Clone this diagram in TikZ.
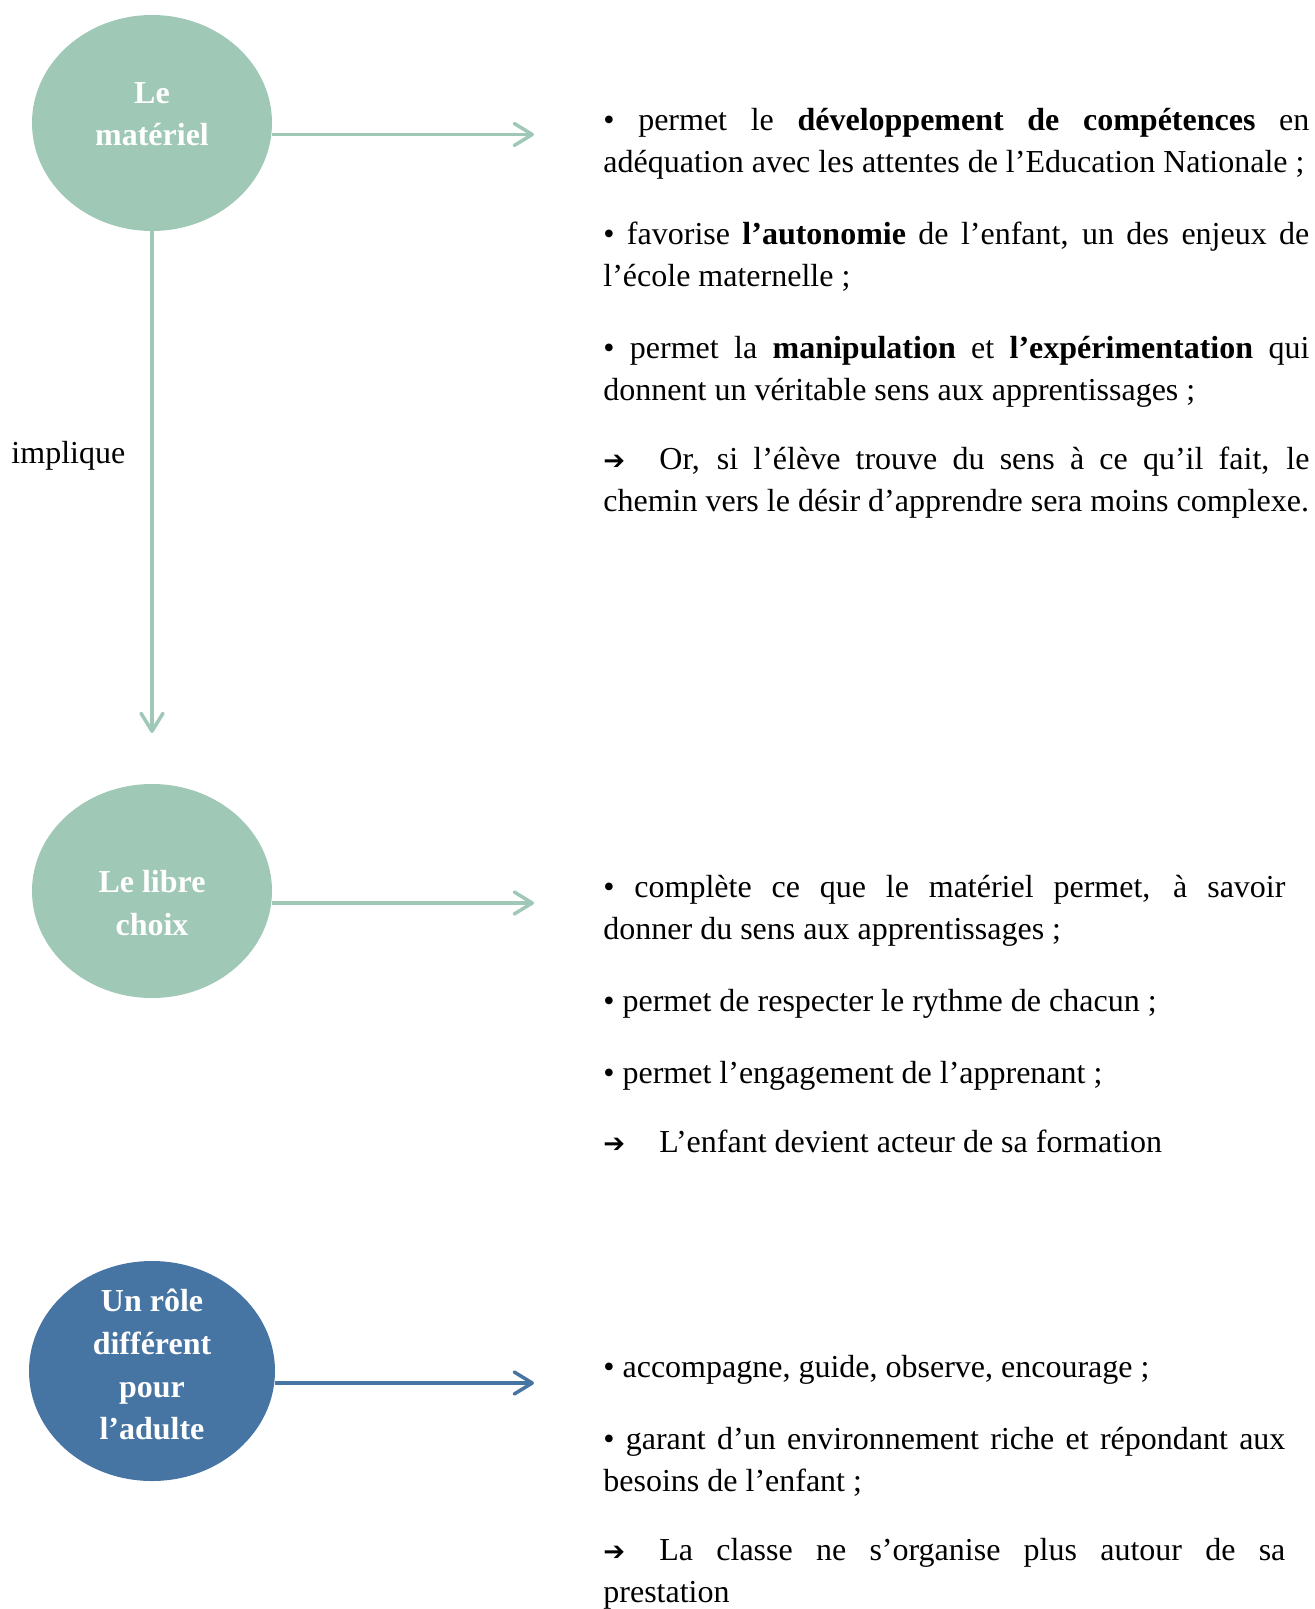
\documentclass[tikz,border=0pt]{standalone}
\usepackage{fontspec}
\setmainfont{Liberation Serif}
\newfontfamily\flechefont{DejaVu Sans}
\usepackage{tikz}
\usetikzlibrary{arrows.meta,positioning,shapes.geometric}
\definecolor{MintGreen}{RGB}{159,200,182}
\definecolor{SlateBlue}{RGB}{70,116,163}
\newcommand{\fleche}{\vspace{-1.5pt}\makebox[28pt][l]{\smash{\flechefont\fontsize{13}{13}\selectfont ➔}}}

\begin{document}
\begin{tikzpicture}[x=0.5pt,y=-0.5pt,>={Straight Barb[length=9pt,width=11pt,line cap=round,line join=round]},every node/.style={font=\fontsize{16}{21}\selectfont}]
\tikzset{bulle/.style={ellipse,fill=MintGreen,text=white,inner sep=0pt,minimum width=120pt,minimum height=108pt,align=center,font=\fontsize{16}{21.3}\selectfont\bfseries},
  liste/.style={text width=353pt,align=justify,inner sep=0pt,anchor=base west,execute at begin node={\setlength{\parskip}{15pt}}},
  lien/.style={->,line width=1.75pt,draw=MintGreen}}
\useasboundingbox (0,0) rectangle (1314,1609);
\node[bulle] (materiel) at (152,123) {Le\\matériel\rule[-9pt]{0pt}{9pt}};
\node[bulle,minimum height=107pt] (choix) at (152,891) {\rule{0pt}{23pt}Le libre\\choix};
\node[bulle,fill=SlateBlue,minimum width=123pt,minimum height=110pt] (adulte) at (152,1371) {\rule{0pt}{4.9pt}\smash{Un rôle}\\différent\\pour\\l’adulte};
\coordinate (bout1) at (534,134.5);
\coordinate (bout2) at (534,903);
\coordinate (bout3) at (534,1383);
\coordinate (bas) at (152,733);
\draw[lien] ([yshift=-5.75pt]materiel.east) -- (bout1);
\draw[lien] ([yshift=-6pt]choix.east) -- (bout2);
\draw[lien,draw=SlateBlue] ([yshift=-6pt]adulte.east) -- (bout3);
\draw[lien] (materiel.south) -- node[pos=.447,left=12.5pt,inner sep=0pt,text=black]{implique} (bas);
\node[liste] (txtmat) at (603,131) {• permet le \textbf{développement de compétences} en\linebreak adéquation avec les attentes de l’Education Nationale~;\par
• favorise \textbf{l’autonomie} de l’enfant, un des enjeux de\linebreak l’école maternelle ;\par
• permet la \textbf{manipulation} et \textbf{l’expérimentation} qui\linebreak donnent un véritable sens aux apprentissages ;\par
\fleche Or, si l’élève trouve du sens à ce qu’il fait, le\linebreak chemin vers le désir d’apprendre sera moins complexe.};
\node[liste,text width=341pt] (txtchoix) at (603,897) {• complète ce que le matériel permet, à savoir\linebreak donner du sens aux apprentissages ;\par
• permet de respecter le rythme de chacun ;\par
• permet l’engagement de l’apprenant ;\par
\fleche L’enfant devient acteur de sa formation};
\node[liste,text width=341pt] (txtadulte) at (603,1377) {• accompagne, guide, observe, encourage ;\par
• garant d’un environnement riche et répondant aux\linebreak besoins de l’enfant ;\par
\fleche La classe ne s’organise plus autour de sa\linebreak prestation};
\end{tikzpicture}
\end{document}
